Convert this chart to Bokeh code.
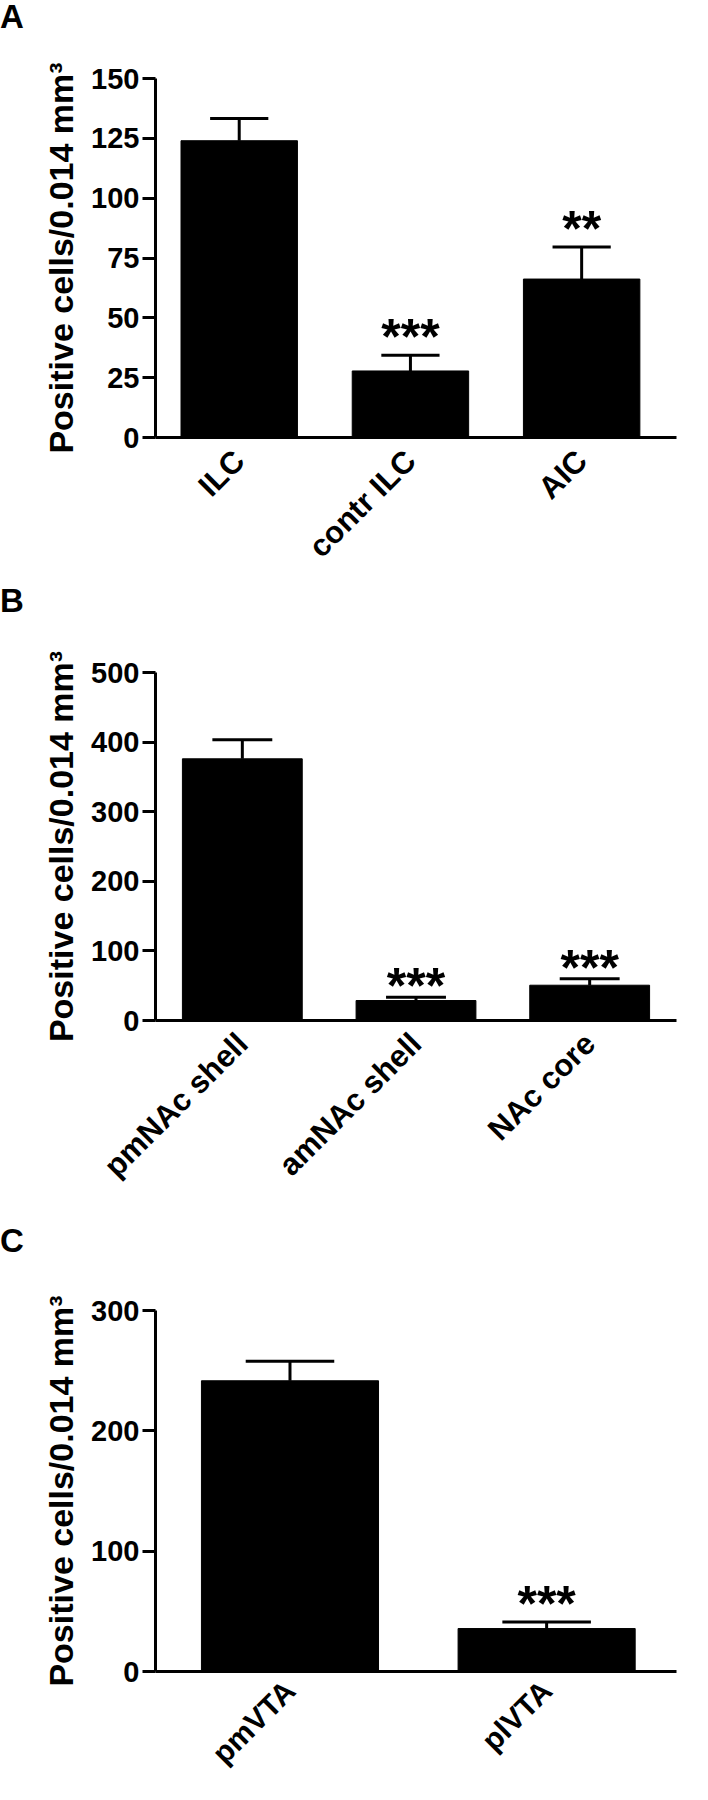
import math
from bokeh.plotting import figure
from bokeh.models import Range1d, FixedTicker, ColumnDataSource, Div
from bokeh.layouts import column
from bokeh.embed import file_html
from bokeh.resources import INLINE
from bokeh.core.properties import value

# ---- data ----
a_categories = ["ILC", "contr ILC", "AIC"]
a_means = [124.0, 27.8, 66.2]
a_sem = [9.3, 6.6, 13.4]
a_stars = ["", "***", "**"]
a_ticks = [0, 25, 50, 75, 100, 125, 150]

b_categories = ["pmNAc shell", "amNAc shell", "NAc core"]
b_means = [376.0, 28.7, 50.7]
b_sem = [27.5, 4.8, 9.2]
b_stars = ["", "***", "***"]
b_ticks = [0, 100, 200, 300, 400, 500]

c_categories = ["pmVTA", "plVTA"]
c_means = [241.6, 35.7]
c_sem = [16.2, 5.5]
c_stars = ["", "***"]
c_ticks = [0, 100, 200, 300]

panel_letters = ["A", "B", "C"]

Y_LABEL = "Positive cells/0.014 mm\u00b3"
FONT = "Liberation Sans"
LEFT = 155
FIG_W = 700
LETTER_H = 34


def letter_div(letter):
    return Div(text=letter, width=80, height=LETTER_H, margin=(0, 0, 0, 0),
               styles={"font-family": FONT, "font-weight": "bold",
                       "font-size": "33px", "line-height": "1",
                       "color": "black"})


def make_panel(cats, means, sems, stars, ticks, xlo, xhi, bar_w,
               height, top, frame_h, right, star_off, xfont, xstand):
    n = len(cats)
    xs = list(range(n))
    err_top = [m + s for m, s in zip(means, sems)]
    src = ColumnDataSource(dict(
        x=xs, top=means, err=err_top,
        cl=[x - bar_w / 4 for x in xs], cr=[x + bar_w / 4 for x in xs],
        stars=stars,
    ))
    bottom = height - top - frame_h
    p = figure(width=FIG_W, height=height, output_backend="svg",
               toolbar_location=None,
               x_range=Range1d(xlo, xhi), y_range=Range1d(0, ticks[-1]),
               min_border_left=LEFT, min_border_right=right,
               min_border_top=top, min_border_bottom=bottom)
    p.outline_line_color = None
    p.grid.visible = False
    p.background_fill_color = "white"

    p.vbar(x="x", top="top", width=bar_w, bottom=0, source=src,
           fill_color="black", line_color="black", line_width=1)
    p.segment(x0="x", y0="top", x1="x", y1="err", source=src,
              line_color="black", line_width=3)
    p.segment(x0="cl", y0="err", x1="cr", y1="err", source=src,
              line_color="black", line_width=3)
    p.text(x="x", y="err", text="stars", source=src,
           text_align="center", text_baseline="alphabetic",
           y_offset=star_off, text_font=value(FONT), text_font_style="bold",
           text_font_size="50px", text_color="black")

    # y axis
    ya = p.yaxis[0]
    ya.ticker = FixedTicker(ticks=ticks)
    ya.minor_tick_line_color = None
    ya.major_tick_in = 0
    ya.major_tick_out = 13
    ya.major_tick_line_width = 3
    ya.axis_line_width = 3
    ya.major_label_standoff = 3
    ya.major_label_text_font = FONT
    ya.major_label_text_font_style = "bold"
    ya.major_label_text_font_size = "29px"
    ya.major_label_text_color = "black"
    ya.axis_label = Y_LABEL
    ya.axis_label_text_font = FONT
    ya.axis_label_text_font_style = "bold"
    ya.axis_label_text_font_size = "34px"
    ya.axis_label_text_color = "black"
    ya.axis_label_standoff = 8

    # x axis
    xa = p.xaxis[0]
    xa.ticker = FixedTicker(ticks=xs)
    xa.major_label_overrides = {i: c for i, c in enumerate(cats)}
    xa.major_tick_line_color = None
    xa.minor_tick_line_color = None
    xa.axis_line_width = 3
    xa.major_label_orientation = math.pi / 4
    xa.major_label_standoff = xstand
    xa.major_label_text_font = FONT
    xa.major_label_text_font_style = "bold"
    xa.major_label_text_font_size = xfont
    xa.major_label_text_color = "black"
    return p


pa = make_panel(a_categories, a_means, a_sem, a_stars, a_ticks,
                -0.489, 2.554, 0.68, 550, 44, 359, 4, -18, "31px", 12)
pb = make_panel(b_categories, b_means, b_sem, b_stars, b_ticks,
                -0.50, 2.50, 0.69, 606, 54, 348, 24, -11, "31px", 12)
pc = make_panel(c_categories, c_means, c_sem, c_stars, c_ticks,
                -0.524, 1.506, 0.69, 526, 52, 362, 5, -18, "30px", 8)

layout = column(letter_div(panel_letters[0]), pa,
                letter_div(panel_letters[1]), pb,
                letter_div(panel_letters[2]), pc, spacing=0)
open("out.html", "w").write(file_html(layout, INLINE))
